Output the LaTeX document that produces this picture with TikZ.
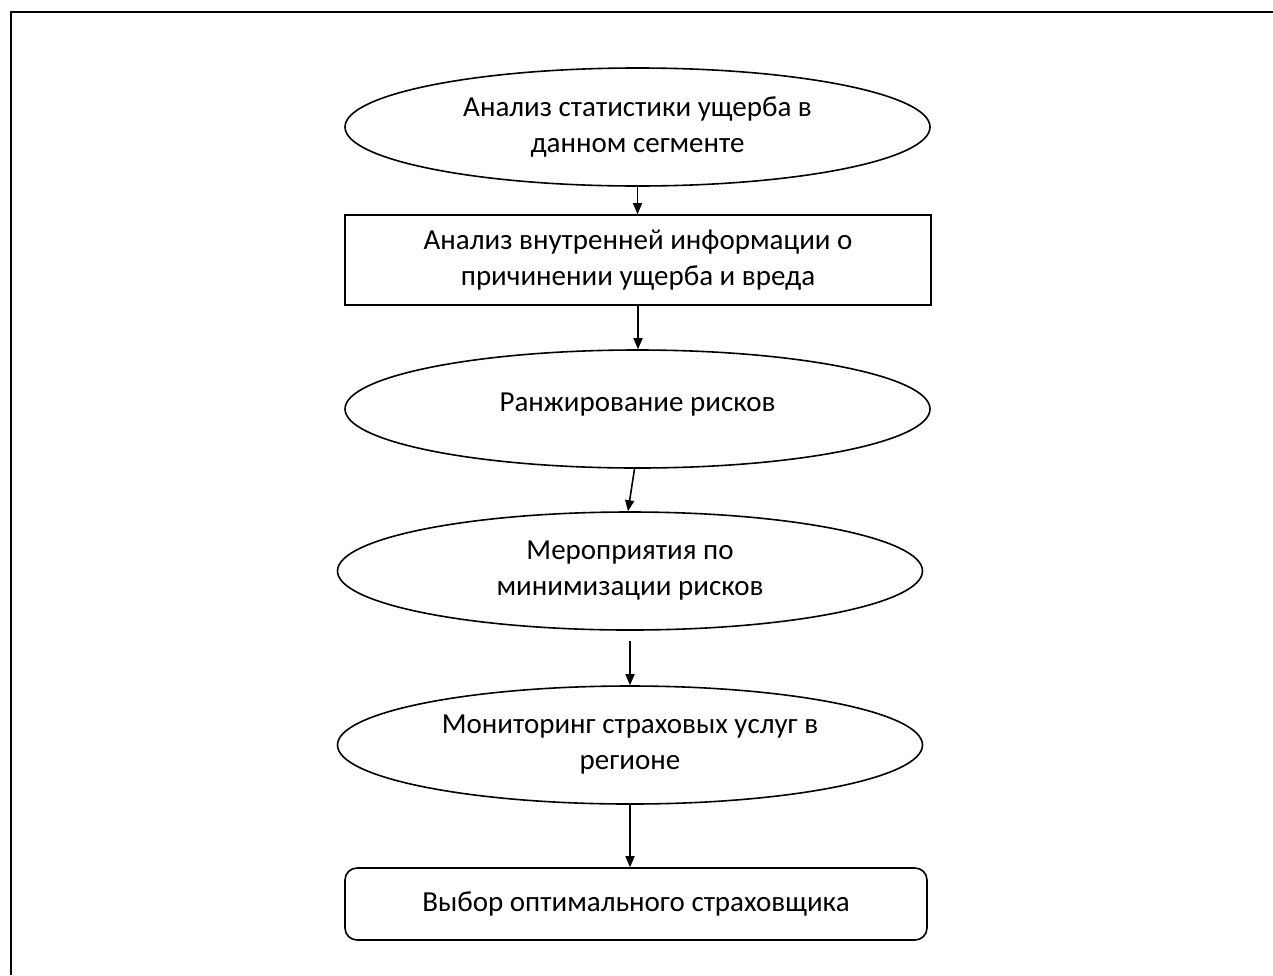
\documentclass[tikz,border=0pt]{standalone}
\usepackage{fontspec}
\setmainfont{Carlito}
\usetikzlibrary{shapes.geometric,arrows.meta}
\tikzset{
  every node/.style={font=\fontsize{29}{36}\selectfont, align=center, inner sep=0pt},
  oval/.style={ellipse, draw, line width=1.6pt, minimum width=585pt, minimum height=118pt},
  box/.style={rectangle, draw, line width=1.6pt, minimum width=586pt, minimum height=90pt},
  rbox/.style={rectangle, rounded corners=12pt, draw, line width=1.6pt, minimum width=582pt, minimum height=72pt},
  arr/.style={line width=1.6pt, -{Triangle[length=11pt,width=9pt]}},
  frame/.style={line width=2.2pt}
}
\begin{document}
\begin{tikzpicture}[x=1pt,y=-1pt]
\useasboundingbox (0,0) rectangle (1273,975);
\coordinate (fa) at (11,975);
\coordinate (fb) at (11,12);
\coordinate (fc) at (1273,12);
\draw[frame] (fa) -- (fb) -- (fc);

\node[oval] (e1) at (637.5,127) {Анализ статистики ущерба в\\данном сегменте};
\node[box] (r2) at (638,260) {Анализ внутренней информации о\\причинении ущерба и вреда};
\node[oval] (e3) at (637.5,409) {\raisebox{14pt}{Ранжирование рисков}};
\node[oval] (e4) at (630,571) {Мероприятия по\\минимизации рисков};
\node[oval] (e5) at (630,745) {Мониторинг страховых услуг в\\регионе};
\node[rbox] (r6) at (636,904) {Выбор оптимального страховщика};

\draw[arr] (e1.south) -- (e1.south |- r2.north);
\draw[arr] (r2.south) -- (r2.south |- e3.north);
\draw[arr] ([xshift=-3pt]e3.south) -- ([xshift=-2pt]e4.north);
\draw[arr,shorten <=10pt] (e4.south) -- (e5.north);
\draw[arr] (e5.south) -- (e5.south |- r6.north);
\end{tikzpicture}
\end{document}
